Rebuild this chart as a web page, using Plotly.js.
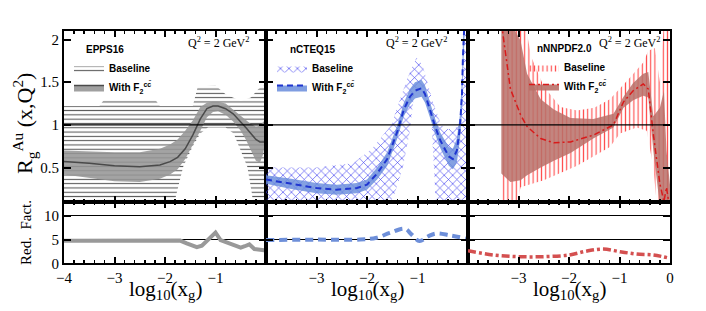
<!DOCTYPE html>
<html><head><meta charset="utf-8">
<script src="https://cdn.plot.ly/plotly-3.0.1.min.js"></script>
<style>html,body{margin:0;padding:0;background:#fff;}#chart{width:706px;height:311px;}</style>
</head><body><div id="chart"></div>
<script>
// ---------------- DATA ----------------
// EPPS16
const eppsX      = [-4, -3.5, -3, -2.5, -2.1, -1.9, -1.75, -1.6, -1.45, -1.3, -1.17, -1.05, -0.95, -0.8, -0.65, -0.5, -0.4, -0.3, -0.2, -0.12, -0.06, -0.03, 0];
const eppsCen    = [0.57, 0.55, 0.52, 0.51, 0.53, 0.57, 0.62, 0.72, 0.88, 1.07, 1.19, 1.22, 1.22, 1.19, 1.13, 1.04, 0.97, 0.90, 0.83, 0.80, 0.80, 0.80, 0.90];
const eppsUp     = [0.70, 0.69, 0.68, 0.68, 0.72, 0.77, 0.83, 0.93, 1.05, 1.21, 1.26, 1.27, 1.27, 1.25, 1.18, 1.11, 1.06, 1.01, 0.98, 0.99, 1.03, 1.05, 1.05];
const eppsLo     = [0.42, 0.38, 0.34, 0.33, 0.37, 0.42, 0.48, 0.60, 0.76, 0.93, 1.09, 1.15, 1.16, 1.12, 1.04, 0.93, 0.83, 0.70, 0.58, 0.56, 0.65, 0.75, 0.80];
const eppsBaseUpX = [-4, -3.3, -3.2, -2.2, -2.1, -1.45, -1.35, -1.0, -0.8, -0.5, -0.3, -0.15, 0];
const eppsBaseUp  = [1.22, 1.22, 1.30, 1.30, 1.22, 1.22, 1.45, 1.46, 1.36, 1.28, 1.32, 1.42, 1.48];
const eppsBaseLoX = [-4, -1.85, -1.77, -1.64, -1.45, -1.3, -1.15, -0.8, -0.64, -0.5, -0.37, -0.28, -0.24, 0];
const eppsBaseLo  = [0, 0, 0.2, 0.51, 0.75, 0.9, 0.97, 0.97, 0.9, 0.7, 0.51, 0.2, 0, 0];
const eppsRfX = [-4, -3, -2, -1.7, -1.57, -1.45, -1.37, -1.27, -1.17, -1.0, -0.9, -0.75, -0.63, -0.5, -0.42, -0.33, -0.23, -0.12, -0.03, 0];
const eppsRf  = [4.75, 4.8, 4.9, 4.8, 4.2, 3.6, 3.4, 3.7, 4.8, 6.5, 4.9, 4.3, 3.8, 3.3, 3.6, 4.0, 3.0, 2.8, 2.7, 2.7];

// nCTEQ15
const ncX   = [-4, -3.5, -3, -2.6, -2.2, -2.0, -1.8, -1.6, -1.4, -1.27, -1.15, -1.05, -0.92, -0.85, -0.75, -0.65, -0.55, -0.45, -0.38, -0.3, -0.22, -0.16, -0.12, -0.1, -0.07];
const ncCen = [0.36, 0.31, 0.26, 0.24, 0.26, 0.30, 0.43, 0.60, 0.92, 1.18, 1.33, 1.40, 1.43, 1.36, 1.17, 0.98, 0.82, 0.70, 0.63, 0.60, 0.70, 0.97, 1.35, 1.80, 2.20];
const ncUp  = [0.41, 0.37, 0.32, 0.30, 0.32, 0.36, 0.50, 0.68, 1.00, 1.26, 1.42, 1.50, 1.53, 1.46, 1.26, 1.07, 0.91, 0.80, 0.74, 0.72, 0.84, 1.12, 1.55, 2.00, 2.40];
const ncLo  = [0.31, 0.25, 0.20, 0.18, 0.20, 0.24, 0.36, 0.52, 0.84, 1.10, 1.24, 1.31, 1.33, 1.26, 1.08, 0.89, 0.73, 0.60, 0.52, 0.48, 0.56, 0.82, 1.15, 1.60, 2.00];
const ncBaseUpX = [-4, -3.0, -2.28, -1.9, -1.52, -1.35, -1.2, -1.02, -0.9, -0.7, -0.53, -0.4, -0.25, -0.15, -0.1, -0.06, -0.02];
const ncBaseUp  = [0.50, 0.50, 0.55, 0.72, 1.00, 1.28, 1.55, 1.79, 1.70, 1.28, 1.00, 0.95, 0.96, 1.05, 1.50, 2.20, 2.30];
const ncBaseLoX = [-4, -1.6, -1.45, -1.29, -1.16, -1.06, -0.95, -0.8, -0.72, -0.66, -0.63, -0.02];
const ncBaseLo  = [0, 0, 0.2, 0.5, 0.9, 1.39, 1.42, 1.4, 1.0, 0.3, 0, 0];
const ncRfX = [-4, -3, -2.14, -1.81, -1.55, -1.25, -1.12, -0.96, -0.79, -0.63, -0.36, -0.03];
const ncRf  = [4.9, 5.0, 5.0, 5.4, 6.4, 7.3, 6.1, 4.7, 5.7, 6.3, 5.9, 5.2];

// nNNPDF2.0
const nnX   = [-3.34, -3.16, -2.96, -2.83, -2.56, -2.3, -1.97, -1.52, -1.12, -0.92, -0.73, -0.53, -0.43, -0.33, -0.2, -0.12, -0.07, -0.03, 0];
const nnCen = [2.20, 1.42, 1.12, 0.98, 0.84, 0.79, 0.80, 0.88, 1.00, 1.27, 1.40, 1.48, 1.42, 0.89, 0.31, 0.10, 0.27, 0.10, 0.0];
const nnUp  = [2.30, 2.20, 1.99, 1.60, 1.30, 1.18, 1.08, 1.07, 1.13, 1.33, 1.49, 1.60, 1.62, 1.10, 1.20, 1.40, 0.70, 0.50, 0.30];
const nnLo  = [0.43, 0.33, 0.35, 0.41, 0.50, 0.58, 0.67, 0.84, 0.97, 1.20, 1.29, 1.34, 1.32, 0.70, 0.05, 0.0, 0.0, 0.0, 0.0];
const nnBaseUpX = [-3.34, -2.9, -2.75, -2.5, -2.17, -1.84, -1.5, -1.19, -0.8, -0.53, -0.43, -0.3, -0.2, -0.12, 0];
const nnBaseUp  = [2.30, 2.30, 1.80, 1.45, 1.21, 1.17, 1.20, 1.30, 1.55, 1.73, 1.87, 1.90, 1.50, 2.20, 2.20];
const nnBaseLoX = [-3.34, -3.05, -2.96, -2.5, -1.84, -1.19, -0.99, -0.66, -0.46, -0.33, -0.25, 0];
const nnBaseLo  = [0, 0, 0.27, 0.35, 0.52, 0.74, 0.90, 0.97, 0.93, 0.50, 0, 0];
const nnRfX = [-4, -3.49, -3.0, -2.5, -2.0, -1.64, -1.32, -0.99, -0.66, -0.33, 0];
const nnRf  = [2.65, 1.75, 1.4, 1.4, 1.75, 2.6, 3.0, 2.45, 1.95, 1.75, 1.05];

// tick labels
const xTickVals1 = [-4, -3, -2, -1];
const xTickText1 = ['\u22124', '\u22123', '\u22122', '\u22121'];
const xTickVals2 = [-3, -2, -1];
const xTickText2 = ['\u22123', '\u22122', '\u22121'];
const xTickVals3 = [-3, -2, -1, 0];
const xTickText3 = ['\u22123', '\u22122', '\u22121', '0'];
const yTopVals = [0.5, 1, 1.5, 2];
const yTopText = ['0.5', '1', '1.5', '2'];
const yBotVals = [0, 5, 10];
const yBotText = ['0', '5', '10'];
const pdfNames = ['EPPS16', 'nCTEQ15', 'nNNPDF2.0'];

// ---------------- FIGURE ----------------
const W = 706, H = 311;
const fx = p => p / W, fy = p => 1 - p / H;
const SERIF = 'Liberation Serif';
const SANS = 'Liberation Sans';
const withF = '<b>With F<sub>2</sub><sup>c\u0063\u0304</sup></b>';

function band(xa, ya, xs, lo, hi, fillcolor) {
  return [
    {x: xs, y: lo, xaxis: xa, yaxis: ya, mode: 'lines', line: {width: 0}, showlegend: false, hoverinfo: 'skip'},
    {x: xs, y: hi, xaxis: xa, yaxis: ya, mode: 'lines', line: {width: 0}, fill: 'tonexty', fillcolor: fillcolor, showlegend: false, hoverinfo: 'skip'}
  ];
}
function hatch(xa, ya, xl, lo, xu, hi, shape, color, size, sol, legend) {
  return [
    {x: xl, y: lo, xaxis: xa, yaxis: ya, mode: 'lines', line: {width: 0}, showlegend: false, hoverinfo: 'skip'},
    {x: xu, y: hi, xaxis: xa, yaxis: ya, mode: 'lines', line: {width: 0, color: color}, fill: 'tonexty',
     fillcolor: 'rgba(0,0,0,0)', fillpattern: {shape: shape, fgcolor: color, size: size, solidity: sol},
     name: '<b>Baseline</b>', legend: legend, showlegend: true, hoverinfo: 'skip'}
  ];
}

const traces = [];
// Panel 1
traces.push(...hatch('x', 'y', eppsBaseLoX, eppsBaseLo, eppsBaseUpX, eppsBaseUp, '-', '#555555', 4.3, 0.25, 'legend'));
traces.push({x: [null], y: [null], xaxis: 'x', yaxis: 'y', mode: 'lines', fill: 'toself', fillcolor: 'rgba(150,150,150,0.9)',
  line: {color: '#4a4a4a', width: 1.5}, name: withF, legend: 'legend', showlegend: true});
traces.push(...band('x', 'y', eppsX, eppsLo, eppsUp, 'rgba(150,150,150,0.88)'));
traces.push({x: eppsX, y: eppsCen, xaxis: 'x', yaxis: 'y', mode: 'lines', line: {color: '#4a4a4a', width: 1.5}, showlegend: false});
// Panel 2
traces.push(...hatch('x2', 'y2', ncBaseLoX, ncBaseLo, ncBaseUpX, ncBaseUp, 'x', '#4040f0', 6, 0.2, 'legend2'));
traces.push({x: [null], y: [null], xaxis: 'x2', yaxis: 'y2', mode: 'lines', fill: 'toself', fillcolor: 'rgba(105,140,220,0.85)',
  line: {color: '#1f35d0', width: 2, dash: '6px,4px'}, name: withF, legend: 'legend2', showlegend: true});
traces.push(...band('x2', 'y2', ncX, ncLo, ncUp, 'rgba(105,140,220,0.82)'));
traces.push({x: ncX, y: ncCen, xaxis: 'x2', yaxis: 'y2', mode: 'lines', line: {color: '#1f35d0', width: 2, dash: '6px,4px'}, showlegend: false});
// Panel 3
traces.push(...hatch('x3', 'y3', nnBaseLoX, nnBaseLo, nnBaseUpX, nnBaseUp, '|', '#ff5050', 4.2, 0.28, 'legend3'));
traces.push({x: [null], y: [null], xaxis: 'x3', yaxis: 'y3', mode: 'lines', fill: 'toself', fillcolor: 'rgba(185,112,104,0.9)',
  line: {color: '#d81a1a', width: 1.5, dash: '6px,3px,2px,3px'}, name: withF, legend: 'legend3', showlegend: true});
traces.push(...band('x3', 'y3', nnX, nnLo, nnUp, 'rgba(185,112,104,0.85)'));
traces.push({x: nnX, y: nnCen, xaxis: 'x3', yaxis: 'y3', mode: 'lines', line: {color: '#d81a1a', width: 1.5, dash: '6px,3px,2px,3px'}, showlegend: false});
// Bottom panels
traces.push({x: eppsRfX, y: eppsRf, xaxis: 'x4', yaxis: 'y4', mode: 'lines', line: {color: '#999999', width: 4}, showlegend: false});
traces.push({x: ncRfX, y: ncRf, xaxis: 'x5', yaxis: 'y5', mode: 'lines', line: {color: '#6e8fd9', width: 4, dash: '8px,5px', shape: 'spline'}, showlegend: false});
traces.push({x: nnRfX, y: nnRf, xaxis: 'x6', yaxis: 'y6', mode: 'lines', line: {color: '#d45050', width: 3.5, dash: '8px,3px,3px,3px', shape: 'spline'}, showlegend: false});

const xd = [[64, 266], [266, 468], [468, 670]].map(a => [fx(a[0]), fx(a[1])]);
const ydTop = [fy(201.7), fy(31)];
const ydBot = [fy(263.3), fy(201.7)];

function xaxisCfg(dom, anchor, vals, text, show) {
  return {domain: dom, anchor: anchor, range: [-4, 0], showline: true, linewidth: 2, linecolor: 'black', mirror: 'allticks',
    ticks: 'inside', ticklen: 6, tickwidth: 2, tickcolor: 'black', tickmode: 'array', tickvals: vals, ticktext: text,
    showticklabels: show, showgrid: false, zeroline: false, tickfont: {family: SERIF, size: 15, color: 'black'},
    minor: {ticks: 'inside', ticklen: 3, tickwidth: 1.5, tickcolor: 'black', dtick: 0.2, tick0: 0, showgrid: false}};
}
function yaxisCfg(dom, anchor, range, vals, text, show, grid) {
  return {domain: dom, anchor: anchor, range: range, showline: true, linewidth: 2, linecolor: 'black', mirror: 'allticks',
    ticks: 'inside', ticklen: 7, tickwidth: 2, tickcolor: 'black', tickmode: 'array', tickvals: vals, ticktext: text,
    showticklabels: show, showgrid: grid, gridcolor: 'black', gridwidth: 1, zeroline: false,
    tickfont: {family: SERIF, size: 15, color: 'black'}};
}

const layout = {
  width: W, height: H, margin: {l: 0, r: 0, t: 0, b: 0}, paper_bgcolor: 'white', plot_bgcolor: 'rgba(0,0,0,0)',
  font: {family: SERIF, color: 'black'},
  showlegend: true,
  xaxis: xaxisCfg(xd[0], 'y', xTickVals1, xTickText1, false),
  xaxis2: xaxisCfg(xd[1], 'y2', xTickVals2, xTickText2, false),
  xaxis3: xaxisCfg(xd[2], 'y3', xTickVals3, xTickText3, false),
  xaxis4: xaxisCfg(xd[0], 'y4', xTickVals1, xTickText1, true),
  xaxis5: xaxisCfg(xd[1], 'y5', xTickVals2, xTickText2, true),
  xaxis6: xaxisCfg(xd[2], 'y6', xTickVals3, xTickText3, true),
  yaxis: yaxisCfg(ydTop, 'x', [0.1, 2.1], yTopVals, yTopText, true, false),
  yaxis2: yaxisCfg(ydTop, 'x2', [0.1, 2.1], yTopVals, yTopText, false, false),
  yaxis3: yaxisCfg(ydTop, 'x3', [0.1, 2.1], yTopVals, yTopText, false, false),
  yaxis4: yaxisCfg(ydBot, 'x4', [0, 13], yBotVals, yBotText, true, true),
  yaxis5: yaxisCfg(ydBot, 'x5', [0, 13], yBotVals, yBotText, false, true),
  yaxis6: yaxisCfg(ydBot, 'x6', [0, 13], yBotVals, yBotText, false, true),
  shapes: ['', '2', '3'].map(s => ({type: 'line', xref: 'x' + s + ' domain', x0: 0, x1: 1, yref: 'y' + s, y0: 1, y1: 1,
    line: {color: 'black', width: 1.2}, layer: 'above'})),
  annotations: []
};
const legFont = {family: SANS, size: 10, color: 'black'};
const legPos = [[69, 54], [272, 54], [524, 53]];
['legend', 'legend2', 'legend3'].forEach((k, i) => {
  layout[k] = {x: fx(legPos[i][0]), y: fy(legPos[i][1]), xanchor: 'left', yanchor: 'top', bgcolor: 'rgba(0,0,0,0)',
    borderwidth: 0, font: legFont, itemwidth: 30, tracegroupgap: 0, traceorder: 'normal'};
});
// PDF set names
[[84, 50], [288, 50], [535, 49]].forEach((p, i) => layout.annotations.push({xref: 'paper', yref: 'paper', x: fx(p[0]), y: fy(p[1]),
  xanchor: 'left', yanchor: 'middle', showarrow: false, text: '<b>' + pdfNames[i] + '</b>', font: legFont}));
// Q^2 labels
[[251, 43], [449, 43], [662, 43]].forEach(p => layout.annotations.push({xref: 'paper', yref: 'paper', x: fx(p[0]), y: fy(p[1]),
  xanchor: 'right', yanchor: 'middle', showarrow: false, text: 'Q<sup>2</sup> = 2 GeV<sup>2</sup>', font: {family: SERIF, size: 12, color: 'black'}}));
// x titles
[165, 367, 569].forEach(cx => layout.annotations.push({xref: 'paper', yref: 'paper', x: fx(cx), y: fy(290), xanchor: 'center', yanchor: 'middle',
  showarrow: false, text: 'log<sub>10</sub>(x<sub>g</sub>)', font: {family: SERIF, size: 21, color: 'black'}}));
// y titles
const ya = (t, x, y, s) => layout.annotations.push({xref: 'paper', yref: 'paper', x: fx(x), y: fy(y), xanchor: 'center', yanchor: 'middle',
  showarrow: false, textangle: -90, text: t, font: {family: SERIF, size: s, color: 'black'}});
ya('R<sub>g</sub><sup>Au</sup> (x,Q<sup>2</sup>)', 24, 124, 22);
ya('Red.  Fact.', 26, 233, 15);

Plotly.newPlot('chart', traces, layout, {staticPlot: true, displayModeBar: false});
</script></body></html>
